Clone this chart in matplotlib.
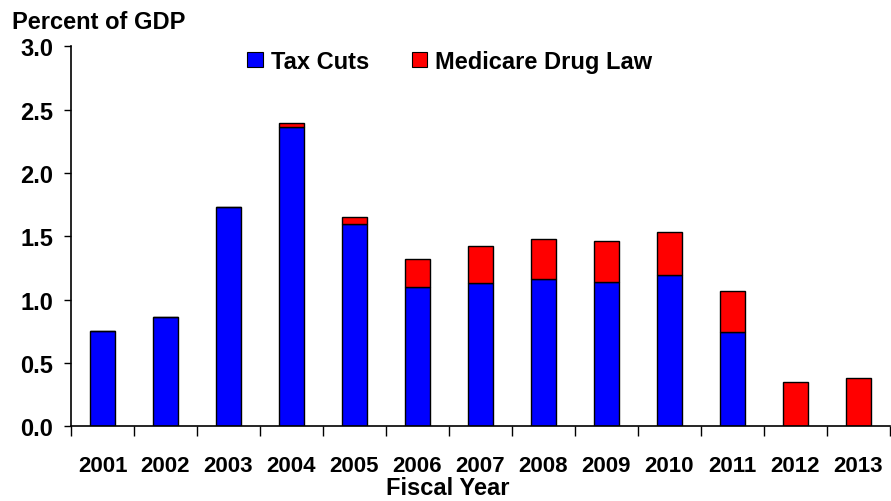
import numpy as np
import matplotlib
matplotlib.use('Agg')
import matplotlib.pyplot as plt
from matplotlib.patches import Patch

# 数据
years = ['2001', '2002', '2003', '2004', '2005', '2006', '2007',
         '2008', '2009', '2010', '2011', '2012', '2013']
tax_cuts = [0.75, 0.86, 1.73, 2.36, 1.60, 1.10, 1.13, 1.16, 1.14, 1.19, 0.74, 0.0, 0.0]
medicare = [0.0, 0.0, 0.0, 0.03, 0.05, 0.22, 0.29, 0.32, 0.32, 0.34, 0.33, 0.35, 0.38]
y_ticks = [0.0, 0.5, 1.0, 1.5, 2.0, 2.5, 3.0]

plt.rcParams['font.family'] = ['Liberation Sans', 'DejaVu Sans']
plt.rcParams['font.weight'] = 'bold'

fig = plt.figure(figsize=(8.91, 5.02), dpi=100)
ax = fig.add_axes([0.0797, 0.149, 0.919, 0.757])

x = np.arange(len(years))
blue = '#0000FF'
red = '#FF0000'
ax.bar(x, tax_cuts, width=0.4, color=blue, edgecolor='black', linewidth=1.0)
ax.bar(x, medicare, width=0.4, bottom=tax_cuts, color=red, edgecolor='black', linewidth=1.0)

# 坐标轴
ax.set_xlim(-0.5, len(years) - 0.5)
ax.set_ylim(0, 3.0)
ax.set_yticks(y_ticks)
ax.set_yticklabels([f'{v:.1f}' for v in y_ticks], fontsize=17, fontweight='bold')
ax.tick_params(axis='y', direction='out', length=5, width=1, pad=8)

ax.set_xticks(x)
ax.set_xticklabels(years, fontsize=16, fontweight='bold')
ax.set_xticks(np.arange(-0.5, len(years)), minor=True)
ax.tick_params(axis='x', which='major', length=0, pad=21)
ax.tick_params(axis='x', which='minor', direction='out', length=7, width=1)

for side in ['top', 'right']:
    ax.spines[side].set_visible(False)
for side in ['left', 'bottom']:
    ax.spines[side].set_linewidth(1.2)

fig.text(0.503, 0.026, 'Fiscal Year', fontsize=17, fontweight='bold', ha='center', va='center')
fig.text(0.013, 0.978, 'Percent of GDP', fontsize=17, fontweight='bold', va='top', ha='left')

# 图例
handles = [Patch(facecolor=blue, edgecolor='black', linewidth=0.8, label='Tax Cuts'),
           Patch(facecolor=red, edgecolor='black', linewidth=0.8, label='Medicare Drug Law')]
fig.legend(handles=handles, loc='center', bbox_to_anchor=(0.505, 0.876), ncol=2,
           frameon=False, handlelength=0.65, handleheight=0.65,
           handletextpad=0.35, columnspacing=1.8,
           prop={'weight': 'bold', 'size': 17})

fig.savefig('out.png', dpi=100)
